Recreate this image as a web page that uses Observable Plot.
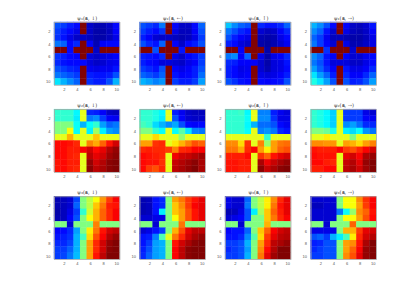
<!DOCTYPE html>
<html><head><meta charset="utf-8">
<script src="https://cdn.jsdelivr.net/npm/d3@7"></script>
<script src="https://cdn.jsdelivr.net/npm/@observablehq/plot@0.6"></script>
<style>html,body{margin:0;padding:0;background:#fff}svg{opacity:.99}</style></head><body><div id="c"></div>
<script>
const W1 = 100, W2 = 60, W3 = 50;
const titles = ["ψ₁(𝐬, ↓)","ψ₁(𝐬, ←)","ψ₁(𝐬, ↑)","ψ₁(𝐬, →)","ψ₂(𝐬, ↓)","ψ₂(𝐬, ←)","ψ₂(𝐬, ↑)","ψ₂(𝐬, →)","ψ₃(𝐬, ↓)","ψ₃(𝐬, ←)","ψ₃(𝐬, ↑)","ψ₃(𝐬, →)"];
const tickLabels = [2,4,6,8,10];
const p1 = [
20,18,15,13,W1,7,5,5,7,13,
18,15,13,10,W1,7,4,4,6,12,
17,14,10,7,7,6,4,4,6,10,
24,22,13,16,W1,12,5,12,13,13,
W1,W1,13,W1,W1,W1,7,W1,W1,W1,
17,15,13,12,W1,9,7,9,10,12,
16,14,13,13,13,9,7,8,10,11,
20,18,16,15,W1,11,10,11,11,14,
24,22,20,18,W1,15,14,14,15,20,
35,30,26,22,W1,17,15,15,20,30];
const p2 = [
20,18,16,24,W1,12,7,7,13,22,
18,15,13,17,W1,10,6,6,12,20,
15,12,8,7,7,6,5,6,10,18,
20,16,14,22,W1,12,7,13,15,20,
W1,W1,20,W1,W1,W1,14,W1,W1,W1,
15,14,13,16,W1,10,7,12,14,18,
15,13,12,9,9,8,7,10,12,18,
18,16,14,20,W1,12,10,12,15,20,
22,20,18,22,W1,14,12,13,15,23,
30,28,25,27,W1,18,15,15,18,28];
const p3 = [
32,26,22,20,W1,16,14,14,16,22,
24,20,16,14,W1,8,6,7,12,16,
20,15,12,10,W1,5,4,5,10,13,
15,13,9,7,W1,4,3,5,8,11,
W1,W1,12,W1,W1,W1,4,W1,W1,W1,
24,26,12,22,W1,10,4,10,12,16,
16,15,12,12,12,8,4,9,10,14,
15,13,10,11,W1,8,5,9,10,13,
15,13,11,12,W1,10,9,10,12,15,
20,17,14,13,W1,13,12,13,14,20];
const p4 = [
30,26,20,13,W1,12,7,6,8,14,
26,22,14,8,W1,10,6,5,7,12,
22,18,11,6,6,5,4,4,6,10,
24,18,12,8,W1,10,5,5,7,10,
W1,W1,17,W1,W1,W1,8,W1,W1,W1,
26,22,14,12,W1,12,8,8,11,13,
24,20,14,9,9,9,7,7,10,13,
28,22,16,12,W1,14,10,10,12,16,
35,28,22,15,W1,16,12,12,16,22,
40,35,28,20,W1,20,15,16,20,28];
const p5 = [
42,42,42,37,W2,16,15,12,7,6,
42,42,42,36,W2,24,26,18,12,11,
50,50,50,38,30,38,42,28,22,24,
50,50,62,38,W2,36,53,36,28,26,
W2,W2,70,W2,W2,W2,68,W2,W2,W2,
87,87,86,84,W2,75,71,78,86,92,
87,87,85,85,88,92,87,90,95,98,
87,87,85,84,W2,94,90,92,97,99,
86,87,85,85,W2,98,92,95,99,100,
86,87,85,84,W2,99,94,96,99,100];
const p6 = [
42,42,40,37,W2,15,11,7,6,6,
42,42,40,36,W2,20,12,8,7,7,
44,42,34,30,26,29,20,13,12,13,
50,50,42,38,W2,38,46,35,25,24,
W2,W2,66,W2,W2,W2,52,W2,W2,W2,
72,72,83,84,W2,65,70,75,80,78,
84,85,84,84,82,75,84,85,88,88,
87,86,85,84,W2,89,92,93,95,97,
87,86,86,83,W2,93,95,97,99,96,
87,82,80,84,W2,94,96,98,100,96];
const p7 = [
42,42,43,37,W2,25,25,15,11,9,
42,42,42,38,W2,26,26,17,10,10,
42,42,42,37,30,23,23,20,13,11,
42,42,42,38,W2,25,27,24,16,14,
W2,W2,W2,W2,W2,W2,42,W2,W2,W2,
74,74,66,83,W2,75,52,72,76,77,
76,76,71,84,88,72,64,72,78,80,
85,85,85,87,W2,83,78,86,90,92,
86,86,85,85,W2,96,89,93,96,98,
86,86,85,85,W2,99,93,96,99,100];
const p8 = [
42,40,37,33,W2,18,18,18,10,8,
42,40,37,33,W2,18,18,18,12,11,
42,40,37,33,W2,26,28,23,16,16,
50,50,48,40,W2,36,34,38,27,24,
W2,W2,64,W2,W2,W2,50,W2,W2,W2,
74,74,73,73,W2,72,70,66,72,75,
86,85,85,85,88,82,80,84,88,92,
87,86,86,86,W2,90,92,88,96,98,
87,87,85,84,W2,93,95,90,98,100,
85,85,87,87,W2,94,96,92,97,100];
const p9 = [
5,6,8,19,W3,56,62,73,82,88,
5,6,8,22,W3,56,68,76,85,86,
4,6,10,18,42,58,70,78,84,88,
5,6,12,20,W3,62,70,78,84,88,
W3,W3,8,W3,W3,W3,75,W3,W3,W3,
12,13,16,28,W3,64,76,86,92,94,
14,15,17,30,44,66,80,88,95,98,
16,16,19,30,W3,72,84,92,98,100,
18,18,22,30,W3,72,84,92,99,100,
18,19,24,31,W3,72,86,94,100,100];
const p10 = [
5,6,14,16,W3,72,76,82,86,90,
5,6,14,16,W3,68,74,82,88,90,
5,6,14,36,W3,68,72,80,86,90,
8,8,10,10,W3,62,72,80,86,90,
W3,W3,8,W3,W3,W3,76,W3,W3,W3,
8,10,14,18,W3,70,80,90,94,94,
14,15,25,45,60,76,84,92,96,98,
14,18,28,30,W3,86,92,96,99,100,
15,20,28,30,W3,88,94,99,100,100,
16,22,28,30,W3,88,94,99,100,100];
const p11 = [
10,8,8,22,W3,56,64,74,84,90,
10,8,8,24,W3,56,64,76,86,90,
5,6,10,20,36,54,68,78,85,90,
8,10,12,20,W3,50,68,76,84,88,
W3,W3,8,W3,W3,W3,70,W3,W3,W3,
12,14,14,22,W3,68,78,88,92,94,
14,14,16,26,46,66,82,90,94,95,
18,18,20,30,W3,72,84,94,96,98,
16,18,20,28,W3,74,87,95,100,100,
18,18,20,30,W3,76,90,97,100,100];
const p12 = [
8,8,8,8,W3,62,62,74,83,88,
6,6,8,8,W3,62,62,72,82,88,
8,8,8,8,24,38,52,74,78,86,
8,8,8,8,W3,62,62,72,80,87,
W3,W3,8,W3,W3,W3,78,W3,W3,W3,
10,10,10,10,W3,70,70,82,90,92,
20,22,18,30,36,44,64,84,92,95,
15,16,20,20,W3,72,74,86,96,100,
16,18,20,20,W3,72,78,88,98,100,
18,18,20,20,W3,74,80,90,98,100];
const panels = [p1,p2,p3,p4,p5,p6,p7,p8,p9,p10,p11,p12];
const jet = [[0,"#000080"],[.125,"#0000ff"],[.375,"#00ffff"],[.625,"#ffff00"],[.875,"#ff0000"],[1,"#800000"]];
const rows = panels.flatMap((vals, i) => vals.map((v, k) => ({
  fx: i % 4, fy: Math.floor(i / 4), col: k % 10 + 1, row: Math.floor(k / 10) + 1, v
})));
const heads = titles.map((t, i) => ({t, fx: i % 4, fy: Math.floor(i / 4)}));
const chart = Plot.plot({
  width: 415, height: 292,
  marginTop: 22, marginRight: 39, marginBottom: 33, marginLeft: 54,
  style: {fontFamily: "'Liberation Sans', sans-serif", fontSize: "4px", background: "#fff"},
  fx: {domain: [0,1,2,3], padding: 0.235, round: false, label: null, axis: null},
  fy: {domain: [0,1,2], padding: 0.28, round: false, label: null, axis: null},
  x: {domain: d3.range(1,11), padding: 0, round: false, label: null, axis: null},
  y: {domain: d3.range(1,11), padding: 0, round: false, label: null, axis: null},
  color: {type: "linear", domain: jet.map(d => d[0]*100), range: jet.map(d => d[1]), interpolate: "rgb"},
  marks: [
    Plot.cell(rows, {x: "col", y: "row", fill: "v", fx: "fx", fy: "fy", inset: -0.2}),
    Plot.frame({stroke: "#a8a8a8", strokeWidth: 0.8}),
    Plot.axisX(tickLabels, {anchor: "bottom", facetAnchor: null, tickSize: 0, tickPadding: 3, fontSize: 4, fill: "#555", label: null}),
    Plot.axisY(tickLabels, {anchor: "left", facetAnchor: null, tickSize: 0, tickPadding: 4, fontSize: 4, fill: "#555", label: null}),
    Plot.text(heads, {text: "t", fx: "fx", fy: "fy", frameAnchor: "top", dy: -6, fontSize: 5, fontFamily: "'DejaVu Serif', serif", fill: "#333"})
  ]
});
document.getElementById("c").appendChild(chart);
</script></body></html>
